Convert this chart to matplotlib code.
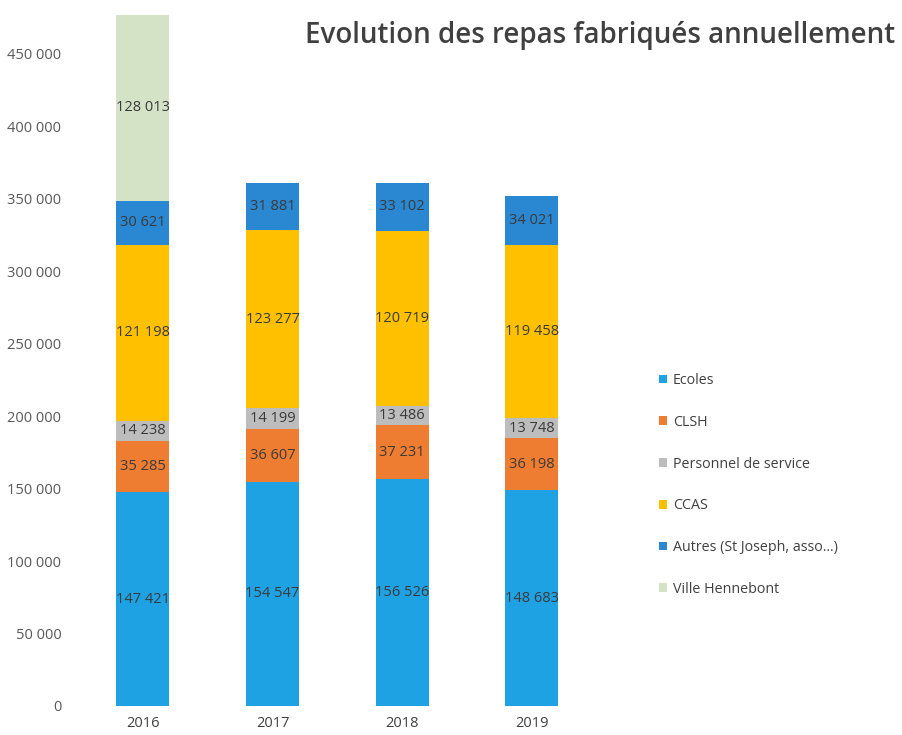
import matplotlib
matplotlib.use("Agg")
import matplotlib.pyplot as plt
import numpy as np

years = ["2016", "2017", "2018", "2019"]
series_names = ["Ecoles", "CLSH", "Personnel de service", "CCAS",
                "Autres (St Joseph, asso...)", "Ville Hennebont"]
ecoles = [147421, 154547, 156526, 148683]
clsh = [35285, 36607, 37231, 36198]
personnel = [14238, 14199, 13486, 13748]
ccas = [121198, 123277, 120719, 119458]
autres = [30621, 31881, 33102, 34021]
ville = [128013, 0, 0, 0]
colors = ["#1FA2E4", "#EE7D31", "#BDBDBD", "#FFC000", "#2A88D2", "#D4E3C6"]
yticks = list(range(0, 450001, 50000))

plt.rcParams['font.family'] = ['Open Sans', 'DejaVu Sans']

def fmt(v):
    return f"{v:,}".replace(",", " ")

fig = plt.figure(figsize=(9.02, 7.35), dpi=100)
ax = fig.add_axes([0.0865, 0.0395, 0.575, 0.9425])

data = [ecoles, clsh, personnel, ccas, autres, ville]
x = np.arange(len(years))
bottom = np.zeros(len(years))
handles = []
for name, vals, c in zip(series_names, data, colors):
    vals = np.array(vals, dtype=float)
    b = ax.bar(x, vals, 0.41, bottom=bottom, color=c, label=name)
    handles.append(b)
    for xi, v, bt in zip(x, vals, bottom):
        if v > 0:
            ax.text(xi, bt + v / 2, fmt(int(v)), ha="center", va="center",
                    fontsize=10.5, color="#3a3a3a")
    bottom += vals

ax.set_xlim(-0.5, 3.5)
ax.set_ylim(0, 478000)
ax.set_yticks(yticks)
ax.set_yticklabels([fmt(t) for t in yticks], fontsize=10.5, color="#595959")
ax.set_xticks(x)
ax.set_xticklabels(years, fontsize=10.5, color="#404040")
ax.tick_params(axis="y", length=0, pad=12)
ax.tick_params(axis="x", length=0, pad=7)
for s in ax.spines.values():
    s.set_visible(False)

fig.legend(handles=handles, labels=series_names, loc="upper left",
           bbox_to_anchor=(0.716, 0.51), frameon=False, fontsize=10.3,
           labelspacing=1.87, handlelength=0.55, handleheight=0.55,
           handletextpad=0.45, labelcolor="#404040")

fig.text(0.338, 0.952, "Evolution des repas fabriqués annuellement",
         fontsize=20, fontweight="semibold", color="#404040",
         ha="left", va="center")

fig.savefig("out.png", dpi=100)
